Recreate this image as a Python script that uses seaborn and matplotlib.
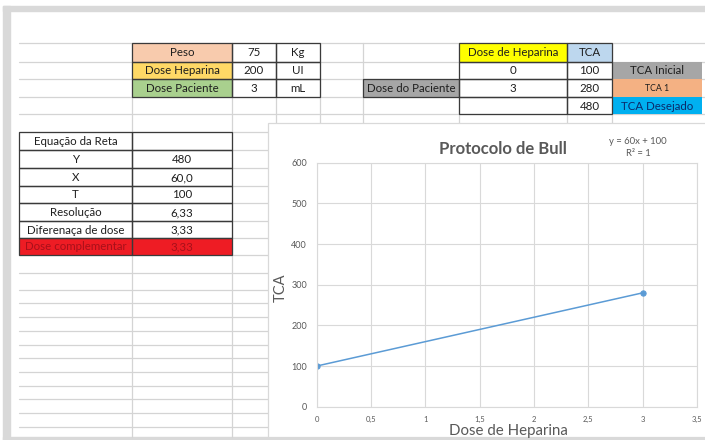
import matplotlib
matplotlib.use('Agg')
import matplotlib.pyplot as plt
from matplotlib.patches import Rectangle
import seaborn as sns

# Dados da planilha
peso_labels = ['Peso', 'Dose Heparina', 'Dose Paciente']
peso_values = ['75', '200', '3']
peso_units = ['Kg', 'UI', 'mL']
peso_colors = ['#f8cbad', '#ffd966', '#a9d08e']

dose_col = ['0', '3', '']
tca_col = ['100', '280', '480']
tca_labels = ['TCA Inicial', 'TCA 1', 'TCA Desejado']
tca_colors = ['#a6a6a6', '#f4b183', '#00b0f0']

eq_labels = ['Equação da Reta', 'Y', 'X', 'T', 'Resolução', 'Diferenaça de dose', 'Dose complementar']
eq_values = ['', '480', '60,0', '100', '6,33', '3,33', '3,33']

# Dados do gráfico
dose_heparina = [0, 3]
tca = [100, 280]
x_ticks = [0, 0.5, 1, 1.5, 2, 2.5, 3, 3.5]
y_ticks = [0, 100, 200, 300, 400, 500, 600]

sns.set_theme(style='white')
plt.rcParams['font.family'] = ['Lato', 'DejaVu Sans']

W, H = 705, 440
fig = plt.figure(figsize=(W / 100, H / 100), dpi=100)
fig.patch.set_facecolor('white')

# eixo "planilha" em pixels
ax0 = fig.add_axes([0, 0, 1, 1])
ax0.set_xlim(0, W)
ax0.set_ylim(H, 0)
ax0.axis('off')
ax0.set_zorder(0)

grid_c = '#d4d4d4'
border_c = '#3a3a3a'
txt_c = '#1e1e1e'
fs = 8.3

# moldura cinza
frame_c = '#d9d9d9'
ax0.add_patch(Rectangle((3, 6), W - 3, 5, color=frame_c, zorder=1))
ax0.add_patch(Rectangle((3, 6), 7, H - 6, color=frame_c, zorder=1))
ax0.add_patch(Rectangle((3, 437), W - 3, 3, color=frame_c, zorder=1))

# linhas de grade da planilha
rows_top = [43, 62, 79, 97, 114]
rows_left = [132, 150, 168, 186, 203, 221, 238, 255, 273, 290, 303, 317,
             331, 345, 358, 372, 386, 399, 413, 427]
for y in rows_top:
    ax0.plot([19, W], [y, y], color=grid_c, lw=0.9, zorder=1)
for y in rows_left:
    ax0.plot([19, 268], [y, y], color=grid_c, lw=0.9, zorder=1)
for x in [132, 232]:
    ax0.plot([x, x], [43, 437], color=grid_c, lw=0.9, zorder=1)
for x in [276, 320, 363, 459, 567, 612]:
    ax0.plot([x, x], [43, 123], color=grid_c, lw=0.9, zorder=1)


def cell(x0, x1, y0, y1, text='', fill=None, color=txt_c, size=fs, border=True):
    if fill is not None:
        ax0.add_patch(Rectangle((x0, y0), x1 - x0, y1 - y0, facecolor=fill,
                                edgecolor='none', zorder=2))
    if border:
        ax0.add_patch(Rectangle((x0, y0), x1 - x0, y1 - y0, facecolor='none',
                                edgecolor=border_c, lw=0.9, zorder=3))
    if text:
        ax0.text((x0 + x1) / 2, (y0 + y1) / 2 + 0.5, text, ha='center', va='center',
                 fontsize=size, color=color, zorder=4)


# tabela 1
r = [43, 62, 79, 97]
for i in range(3):
    cell(132, 232, r[i], r[i + 1], peso_labels[i], fill=peso_colors[i])
    cell(232, 276, r[i], r[i + 1], peso_values[i])
    cell(276, 320, r[i], r[i + 1], peso_units[i])

# tabela 2
r2 = [43, 62, 79, 97, 114]
cell(459, 567, 43, 62, 'Dose de Heparina', fill='#ffff00')
cell(567, 612, 43, 62, 'TCA', fill='#bdd7ee')
for i in range(3):
    cell(459, 567, r2[i + 1], r2[i + 2], dose_col[i])
    cell(567, 612, r2[i + 1], r2[i + 2], tca_col[i])
tca_txt = ['#1e1e1e', '#1e1e1e', '#0b2a6b']
tca_size = [fs, 6.3, fs]
for i in range(3):
    cell(612, 702, r2[i + 1], r2[i + 2], tca_labels[i], fill=tca_colors[i],
         color=tca_txt[i], size=tca_size[i], border=False)
cell(363, 459, 79, 97, 'Dose do Paciente', fill='#a6a6a6')

# tabela 3
r3 = [132, 150, 168, 186, 203, 221, 238, 255]
for i in range(7):
    if i == 6:
        cell(19, 132, r3[i], r3[i + 1], eq_labels[i], fill='#ee1c24', color='#a8101a')
        cell(132, 232, r3[i], r3[i + 1], eq_values[i], fill='#ee1c24', color='#a8101a')
    else:
        cell(19, 132, r3[i], r3[i + 1], eq_labels[i])
        cell(132, 232, r3[i], r3[i + 1], eq_values[i])

# caixa do gráfico
ax0.add_patch(Rectangle((268, 123), W - 268 + 2, 314, facecolor='white',
                        edgecolor='#d9d9d9', lw=0.9, zorder=5))

chart_c = '#595959'
ax0.text(503, 149, 'Protocolo de Bull', ha='center', va='center', fontsize=12,
         fontweight='bold', color=chart_c, zorder=6)
ax0.text(638, 141, 'y = 60x + 100', ha='center', va='center', fontsize=6.8,
         color=chart_c, zorder=6)
ax0.text(638, 153, 'R² = 1', ha='center', va='center', fontsize=6.8,
         color=chart_c, zorder=6)
ax0.text(281, 288, 'TCA', ha='center', va='center', fontsize=10.5, rotation=90,
         color=chart_c, zorder=6)
ax0.text(508, 431, 'Dose de Heparina', ha='center', va='center', fontsize=10.8,
         color=chart_c, zorder=6)

# área do gráfico
left, right, top, bottom = 316.7, 697, 162.7, 406.7
ax = fig.add_axes([left / W, (H - bottom) / H, (right - left) / W, (bottom - top) / H])
ax.set_zorder(2)
ax.set_facecolor('white')
sns.lineplot(x=dose_heparina, y=tca, ax=ax, color='#5b9bd5', linewidth=1.1,
             marker='o', markersize=3.8, markeredgecolor='#5b9bd5')
ax.set_xlim(0, 3.5)
ax.set_ylim(0, 600)
ax.set_xticks(x_ticks)
ax.set_xticklabels([('%g' % t).replace('.', ',') for t in x_ticks])
ax.set_yticks(y_ticks)
ax.grid(True, color='#d9d9d9', lw=0.8)
for s in ax.spines.values():
    s.set_color('#d9d9d9')
    s.set_linewidth(0.8)
ax.tick_params(axis='both', length=0, colors=chart_c)
ax.tick_params(axis='y', labelsize=6.5, pad=7)
ax.tick_params(axis='x', labelsize=5.5, pad=7)

fig.savefig('out.png', dpi=100)
